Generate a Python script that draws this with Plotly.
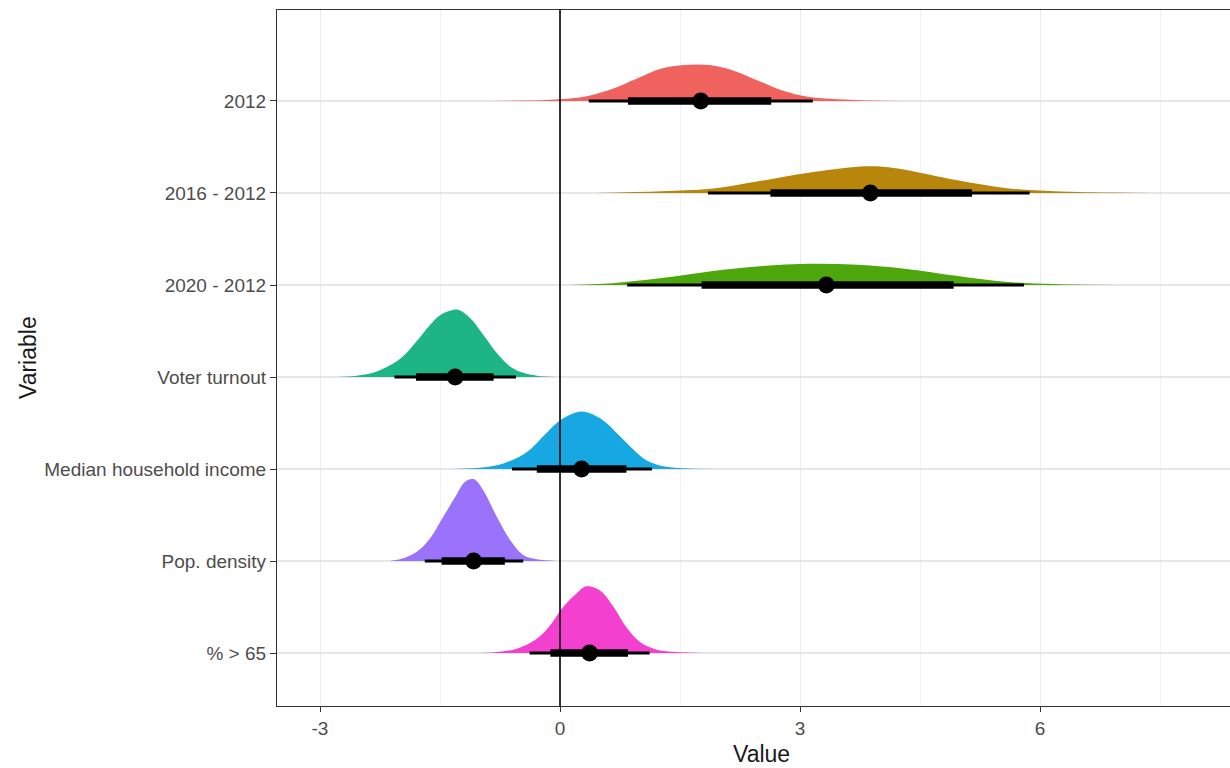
import plotly.graph_objects as go

# ---------------- data ----------------
variables = ["2012", "2016 - 2012", "2020 - 2012", "Voter turnout",
             "Median household income", "Pop. density", "% > 65"]
colors = ["#F0625E", "#B8860B", "#4CA60C", "#1DB584", "#17A7E2", "#9A73FA", "#F440CF"]

medians = [1.76, 3.88, 3.33, -1.31, 0.27, -1.08, 0.37]
lo66 = [0.85, 2.63, 1.77, -1.80, -0.29, -1.48, -0.12]
hi66 = [2.64, 5.15, 4.92, -0.83, 0.83, -0.69, 0.85]
lo95 = [0.36, 1.85, 0.84, -2.07, -0.60, -1.69, -0.38]
hi95 = [3.16, 5.87, 5.80, -0.55, 1.15, -0.46, 1.12]

# slab outlines: x positions and slab heights (in category units)
slab_x_2012 = [-1.2, -0.5, 0.0, 0.35, 0.65, 0.95, 1.26, 1.56, 1.87, 2.17, 2.48, 2.79, 3.1, 3.7, 4.3]
slab_h_2012 = [0.0, 0.005, 0.02, 0.055, 0.13, 0.24, 0.35, 0.39, 0.39, 0.33, 0.22, 0.11, 0.045, 0.01, 0.0]

slab_x_2016 = [0.45, 1.27, 1.89, 2.5, 3.11, 3.72, 4.03, 4.33, 4.95, 5.56, 6.18, 6.94, 7.4]
slab_h_2016 = [0.0, 0.02, 0.045, 0.13, 0.22, 0.285, 0.285, 0.25, 0.14, 0.055, 0.02, 0.005, 0.0]

slab_x_2020 = [0.0, 0.66, 1.27, 1.89, 2.5, 3.11, 3.72, 4.33, 4.95, 5.56, 6.18, 7.0]
slab_h_2020 = [0.0, 0.02, 0.075, 0.15, 0.205, 0.23, 0.22, 0.175, 0.1, 0.035, 0.01, 0.0]

slab_x_turnout = [-2.8, -2.54, -2.29, -2.04, -1.92, -1.79, -1.625, -1.5, -1.375, -1.27, -1.125, -0.96, -0.79, -0.625, -0.46, -0.29, -0.04]
slab_h_turnout = [0.0, 0.014, 0.06, 0.17, 0.26, 0.39, 0.565, 0.67, 0.72, 0.73, 0.64, 0.46, 0.26, 0.115, 0.045, 0.014, 0.0]

slab_x_income = [-1.35, -1.04, -0.79, -0.54, -0.375, -0.21, -0.04, 0.125, 0.27, 0.42, 0.58, 0.75, 0.92, 1.08, 1.29, 1.54, 1.92]
slab_h_income = [0.0, 0.011, 0.04, 0.12, 0.21, 0.355, 0.5, 0.59, 0.625, 0.59, 0.5, 0.355, 0.21, 0.095, 0.03, 0.008, 0.0]

slab_x_density = [-2.13, -1.96, -1.79, -1.625, -1.46, -1.31, -1.19, -1.08, -0.96, -0.79, -0.625, -0.46, -0.29, -0.04]
slab_h_density = [0.0, 0.03, 0.1, 0.245, 0.48, 0.695, 0.86, 0.89, 0.77, 0.48, 0.23, 0.065, 0.018, 0.0]

slab_x_65 = [-1.13, -0.79, -0.54, -0.29, -0.125, 0.04, 0.21, 0.33, 0.5, 0.67, 0.83, 1.0, 1.21, 1.46, 1.92]
slab_h_65 = [0.0, 0.011, 0.047, 0.155, 0.3, 0.5, 0.65, 0.725, 0.68, 0.5, 0.28, 0.12, 0.036, 0.011, 0.0]

slabs_x = [slab_x_2012, slab_x_2016, slab_x_2020, slab_x_turnout, slab_x_income, slab_x_density, slab_x_65]
slabs_h = [slab_h_2012, slab_h_2016, slab_h_2020, slab_h_turnout, slab_h_income, slab_h_density, slab_h_65]

x_ticks = [-3, 0, 3, 6]

# ---------------- figure ----------------
n = len(variables)
base = [n - 1 - i for i in range(n)]  # top category at highest position

fig = go.Figure()

for i in range(n):
    b = base[i]
    xs = slabs_x[i]
    hs = slabs_h[i]
    fig.add_trace(go.Scatter(x=[xs[0], xs[-1]], y=[b, b], mode="lines",
                             line=dict(width=0, color=colors[i]), showlegend=False,
                             hoverinfo="skip"))
    fig.add_trace(go.Scatter(x=xs, y=[b + h for h in hs], mode="lines",
                             line=dict(width=0, color=colors[i], shape="spline", smoothing=1.0),
                             fill="tonexty", fillcolor=colors[i], showlegend=False,
                             name=variables[i]))

for i in range(n):
    b = base[i]
    fig.add_trace(go.Scatter(x=[lo95[i], hi95[i]], y=[b, b], mode="lines",
                             line=dict(width=3, color="black"), showlegend=False))
    fig.add_trace(go.Scatter(x=[lo66[i], hi66[i]], y=[b, b], mode="lines",
                             line=dict(width=7.5, color="black"), showlegend=False))

fig.add_trace(go.Scatter(x=medians, y=base, mode="markers",
                         marker=dict(size=17, color="black"), showlegend=False))

fig.add_shape(type="line", x0=0, x1=0, xref="x", y0=0, y1=1, yref="paper",
              line=dict(color="black", width=1.6), layer="above")

FONT = "Liberation Sans, Arial, sans-serif"

fig.update_layout(
    width=1230, height=768,
    margin=dict(l=277, r=0, t=10, b=62),
    plot_bgcolor="white", paper_bgcolor="white",
    font=dict(family=FONT, size=19, color="#4D4D4D"),
    xaxis=dict(range=[-3.5375, 8.375], tickvals=x_ticks,
               ticktext=[str(v) for v in x_ticks],
               showgrid=True, gridcolor="#EBEBEB", gridwidth=1.3,
               minor=dict(tickvals=[-1.5, 1.5, 4.5, 7.5], showgrid=True,
                          gridcolor="#F2F2F2", gridwidth=1, ticklen=0),
               zeroline=False, showline=True, mirror=True, linecolor="#333333",
               linewidth=1.2, ticks="outside", ticklen=5, tickcolor="#333333",
               tickfont=dict(size=19, color="#4D4D4D")),
    yaxis=dict(range=[-0.576, 6.989], tickvals=base, ticktext=variables,
               showgrid=True, gridcolor="#E6E6E6", gridwidth=1.6,
               zeroline=False, showline=True, mirror=False, linecolor="#333333",
               linewidth=1.2, ticks="outside", ticklen=6, tickcolor="#333333",
               tickfont=dict(size=19, color="#4D4D4D")),
)

# axis titles placed by pixel position
fig.add_annotation(text="Value", xref="paper", yref="paper",
                   x=(761 - 277) / (1230 - 277), y=-(754 - 706) / (706 - 10),
                   showarrow=False, xanchor="center", yanchor="middle",
                   font=dict(size=23, color="#1A1A1A", family=FONT))
fig.add_annotation(text="Variable", xref="paper", yref="paper",
                   x=-(277 - 28) / (1230 - 277), y=0.5, textangle=-90,
                   showarrow=False, xanchor="center", yanchor="middle",
                   font=dict(size=23, color="#1A1A1A", family=FONT))

fig.write_html("out.html")
